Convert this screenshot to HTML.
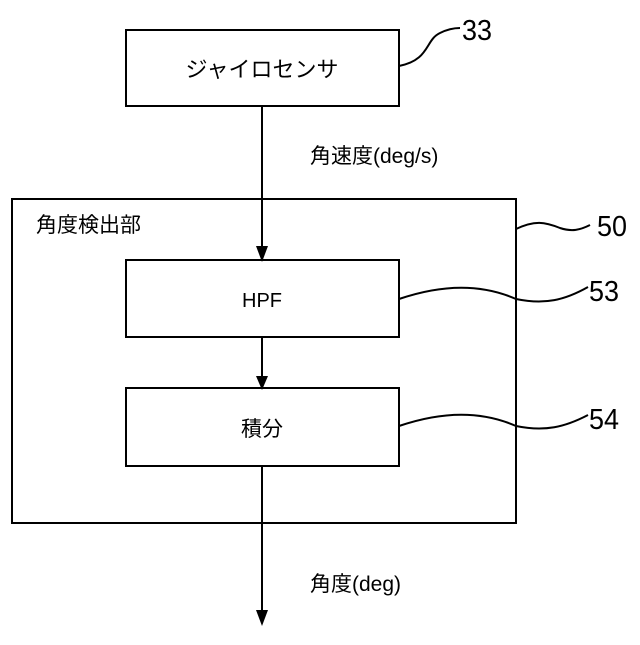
<!DOCTYPE html>
<html><head><meta charset="utf-8"><style>
html,body{margin:0;padding:0;background:#fff;}
</style></head><body>
<svg width="640" height="640" viewBox="0 0 640 640" xmlns="http://www.w3.org/2000/svg">
<g fill="none" stroke="#000" stroke-width="2">
<rect x="126" y="30" width="273" height="76"/>
<rect x="12" y="199" width="504" height="324"/>
<rect x="126" y="260" width="273" height="77"/>
<rect x="126" y="388" width="273" height="78"/>
<line x1="262" y1="106" x2="262" y2="248"/>
<line x1="262" y1="337" x2="262" y2="378"/>
<line x1="262" y1="466" x2="262" y2="612"/>
<path d="M399,66 C430,60 425,40 440,33 C448,29 454,28 460,28"/>
<path d="M516,229 C535,220 545,222 560,228 C572,232 580,230 590,225"/>
<path d="M399,299 C440,285 480,283 516,299 C545,305 565,300 588,287"/>
<path d="M399,426 C440,412 480,410 516,426 C545,432 565,427 588,415"/>
</g>
<g fill="#000">
<polygon points="256,246 268,246 262,262"/>
<polygon points="256,376 268,376 262,390"/>
<polygon points="256,610 268,610 262,626"/>
</g>
<g font-family="'Liberation Sans','Noto Sans CJK JP',sans-serif" fill="#000">
<text x="262" y="77" font-size="22" text-anchor="middle">ジャイロセンサ</text>
<text x="310" y="163" font-size="21">角速度(deg/s)</text>
<text x="36" y="232" font-size="21">角度検出部</text>
<text x="262" y="307" font-size="20" text-anchor="middle">HPF</text>
<text x="262" y="436" font-size="21" text-anchor="middle">積分</text>
<text x="310" y="591" font-size="21">角度(deg)</text>
<text x="462" y="40" font-size="29" textLength="30" lengthAdjust="spacingAndGlyphs">33</text>
<text x="597" y="236" font-size="29" textLength="30" lengthAdjust="spacingAndGlyphs">50</text>
<text x="589" y="301" font-size="29" textLength="30" lengthAdjust="spacingAndGlyphs">53</text>
<text x="589" y="429" font-size="29" textLength="30" lengthAdjust="spacingAndGlyphs">54</text>
</g>
</svg>
</body></html>
